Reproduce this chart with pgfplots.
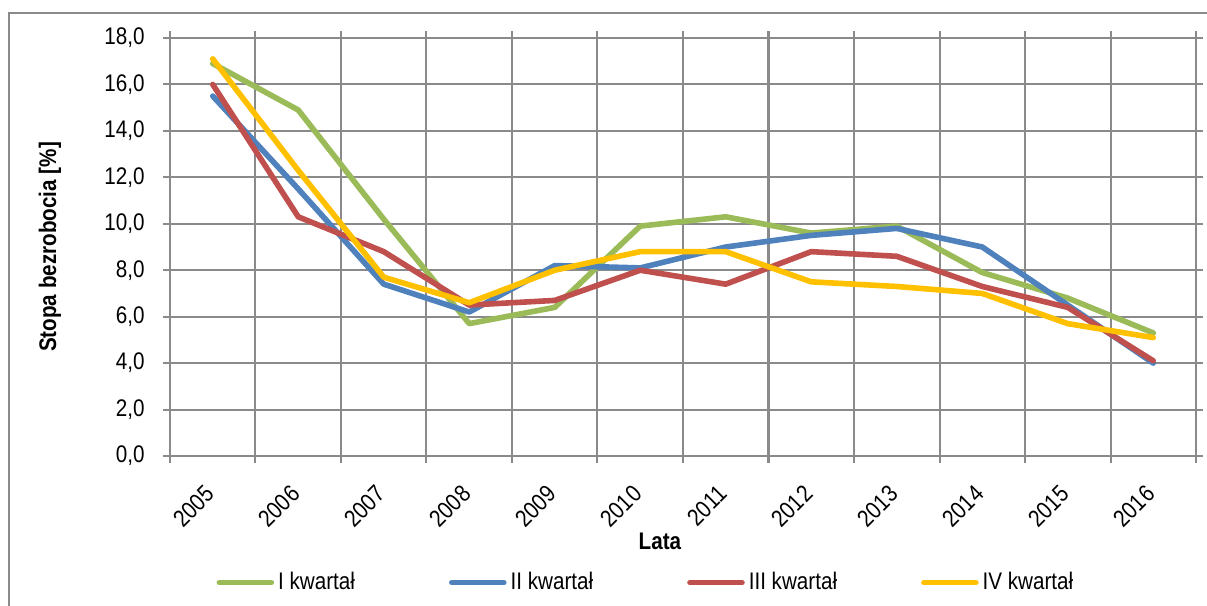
\documentclass[border=0pt]{standalone}
\usepackage{fontspec}
\setmainfont{Liberation Sans}[FakeStretch=0.86]
\usepackage{pgfplots}
\pgfplotsset{compat=1.18}
\definecolor{cI}{HTML}{9BBB59}
\definecolor{cII}{HTML}{4F81BD}
\definecolor{cIII}{HTML}{C0504D}
\definecolor{cIV}{HTML}{FFC000}
\definecolor{gridc}{HTML}{8A8A8A}
\begin{document}
\fontsize{12}{14.4}\selectfont
\begin{tikzpicture}
\begin{axis}[
  scale only axis,
  width=513pt, height=209pt,
  at={(0,0)}, anchor=south west,
  xmin=-0.5, xmax=11.5,
  ymin=0, ymax=18,
  xtick={0,...,11},
  xticklabels={2005,2006,2007,2008,2009,2010,2011,2012,2013,2014,2015,2016},
  minor xtick={-0.5,0.5,...,11.5},
  ytick={0,2,...,18},
  tick align=outside,
  major tick length=3.5pt,
  minor tick length=3.5pt,
  major x tick style={draw=none},
  minor x tick style={gridc, line width=1pt},
  major y tick style={gridc, line width=1pt},
  xmajorgrids=false,
  xminorgrids=true,
  ymajorgrids=true,
  grid style={gridc, line width=1pt},
  minor grid style={gridc, line width=1pt},
  axis line style={gridc, line width=1pt},
  /pgf/number format/assume math mode=true,
  /pgf/number format/fixed,
  /pgf/number format/fixed zerofill,
  /pgf/number format/precision=1,
  /pgf/number format/use comma,
  scaled y ticks=false,
  yticklabel style={font=\fontsize{12}{14.4}\selectfont, anchor=east, xshift=-5pt},
  xticklabel style={font=\fontsize{12}{14.4}\selectfont, xshift=1.5pt, yshift=-10.5pt, rotate=45, anchor=east},
  xlabel={\textbf{Lata}},
  ylabel={\textbf{Stopa bezrobocia [\%]}},
  xlabel style={at={(axis description cs:0.4776,-0.205)}, anchor=center, font=\fontsize{12}{14.4}\selectfont},
  ylabel style={at={(axis description cs:-0.117,0.5)}, anchor=center, font=\fontsize{12}{14.4}\selectfont},
  legend columns=4,
  legend style={at={(axis description cs:0.045,-0.303)}, anchor=west, draw=none, fill=none,
    font=\fontsize{12}{14.4}\selectfont,
    /tikz/every even column/.append style={column sep=45pt},
    inner sep=0pt},
  legend cell align=left,
  legend image code/.code={\draw[#1, line cap=round] (0pt,0pt) -- (26pt,0pt);},
  every axis plot/.append style={line width=2.8pt, line join=round, line cap=round},
]
\addplot[cI] coordinates {(0,16.9)(1,14.9)(2,10.2)(3,5.7)(4,6.4)(5,9.9)(6,10.3)(7,9.6)(8,9.9)(9,7.9)(10,6.8)(11,5.3)};
\addlegendentry{I kwartał}
\addplot[cII] coordinates {(0,15.5)(1,11.5)(2,7.4)(3,6.2)(4,8.2)(5,8.1)(6,9.0)(7,9.5)(8,9.8)(9,9.0)(10,6.5)(11,4.0)};
\addlegendentry{II kwartał}
\addplot[cIII] coordinates {(0,16.0)(1,10.3)(2,8.8)(3,6.5)(4,6.7)(5,8.0)(6,7.4)(7,8.8)(8,8.6)(9,7.3)(10,6.4)(11,4.1)};
\addlegendentry{III kwartał\hspace*{-5pt}}
\addplot[cIV] coordinates {(0,17.1)(1,12.3)(2,7.7)(3,6.6)(4,8.0)(5,8.8)(6,8.8)(7,7.5)(8,7.3)(9,7.0)(10,5.7)(11,5.1)};
\addlegendentry{IV kwartał}
\end{axis}
\draw[gridc, line width=1pt] ([shift={(-80.5pt,-80pt)}]current axis.south west) -- ([shift={(-80.5pt,221.5pt)}]current axis.south west) -- ([shift={(530pt,221.5pt)}]current axis.south west);
\pgfresetboundingbox
\path ([shift={(-85pt,-75pt)}]current axis.south west) rectangle ([shift={(518.5pt,228pt)}]current axis.south west);
\end{tikzpicture}
\end{document}
